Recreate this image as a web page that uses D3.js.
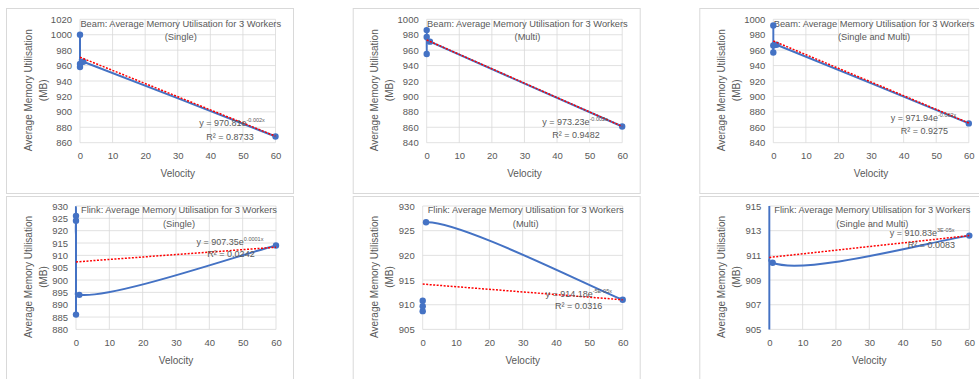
<!DOCTYPE html>
<html>
<head>
<meta charset="utf-8">
<script src="https://cdn.jsdelivr.net/npm/d3@7"></script>
<style>
  body { margin: 0; background: #fff; }
  text { font-family: "Liberation Sans", Arial, sans-serif; fill: #595959; }
</style>
</head>
<body>
<div id="chart"></div>
<script>
// ----------------------------
// Data
// ----------------------------
const xTicks = [0, 10, 20, 30, 40, 50, 60];

const titles = [
    "Beam: Average Memory Utilisation for 3 Workers",
    "Beam: Average Memory Utilisation for 3 Workers",
    "Beam: Average Memory Utilisation for 3 Workers",
    "Flink: Average Memory Utilisation for 3 Workers",
    "Flink: Average Memory Utilisation for 3 Workers",
    "Flink: Average Memory Utilisation for 3 Workers"
];
const subtitles = ["(Single)", "(Multi)", "(Single and Multi)", "(Single)", "(Multi)", "(Single and Multi)"];

// velocity / memory for each series (in the order Excel joins them)
const beamSingleX = [0, 0, 0, 1, 60];
const beamSingleY = [1000, 958, 962, 965, 868];
const beamMultiX = [0, 0, 0, 1, 60];
const beamMultiY = [986, 955, 977, 971, 861];
const beamBothX = [0, 0, 0, 1, 60];
const beamBothY = [992, 957, 966, 967, 865];
const flinkSingleX = [0, 0, 0, 1, 60];
const flinkSingleY = [886, 926, 924, 894, 914];
const flinkMultiX = [0, 0, 0, 1, 60];
const flinkMultiY = [910.8, 909.7, 908.7, 926.7, 911];
const flinkBothX = [0, 0, 0, 1, 60];
const flinkBothY = [886, 926, 919, 910.4, 912.6];

// y axis ticks
const yTicksBeamSingle = [860, 880, 900, 920, 940, 960, 980, 1000, 1020];
const yTicksBeamMulti = [840, 860, 880, 900, 920, 940, 960, 980, 1000];
const yTicksBeamBoth = [840, 860, 880, 900, 920, 940, 960, 980, 1000];
const yTicksFlinkSingle = [880, 885, 890, 895, 900, 905, 910, 915, 920, 925, 930];
const yTicksFlinkMulti = [905, 910, 915, 920, 925, 930];
const yTicksFlinkBoth = [905, 907, 909, 911, 913, 915];

// exponential trendline: value at velocity 0 and at velocity 60
const trendAt0 = [970.8, 973.2, 971.9, 907.35, 914.18, 910.83];
const trendAt60 = [868.5, 861.2, 865.5, 913.3, 911.0, 912.6];
const trendCoef = ["970.81", "973.23", "971.94", "907.35", "914.18", "910.83"];
const trendExp = ["-0.002x", "-0.002x", "-0.002x", "0.0001x", "-5E-05x", "3E-05x"];
const trendR2 = ["0.8733", "0.9482", "0.9275", "0.0242", "0.0316", "0.0083"];

// first point from which the series line is drawn
const lineFrom = [0, 0, 0, 0, 3, 0];

const seriesX = [beamSingleX, beamMultiX, beamBothX, flinkSingleX, flinkMultiX, flinkBothX];
const seriesY = [beamSingleY, beamMultiY, beamBothY, flinkSingleY, flinkMultiY, flinkBothY];
const yTicks = [yTicksBeamSingle, yTicksBeamMulti, yTicksBeamBoth, yTicksFlinkSingle, yTicksFlinkMulti, yTicksFlinkBoth];

// label placement (relative to plot area)
const eqPos = [[152, 106.7, 150], [148.3, 105.7, 149.3], [150.2, 101.7, 151], [154, 39, 155], [156, 91.3, 156], [152.8, 30, 162]];
const r2Gap = [14, 13, 13, 12, 12, 12];

// ----------------------------
// Drawing
// ----------------------------
const width = 979, height = 379;
const boxLeft = [6, 352.7, 699.3];
const boxTop = [8, 196];

const svg = d3.select("#chart")
    .append("svg")
    .attr("width", width)
    .attr("height", height);

// Excel-like smoothed line (cardinal spline) through pixel points
function smoothPath(pts, from) {
    let d = "";
    for (let i = from; i < pts.length - 1; i++) {
        const p0 = pts[Math.max(i - 1, 0)], p1 = pts[i], p2 = pts[i + 1], p3 = pts[Math.min(i + 2, pts.length - 1)];
        const c1 = [p1[0] + (p2[0] - p0[0]) / 6, p1[1] + (p2[1] - p0[1]) / 6];
        const c2 = [p2[0] - (p3[0] - p1[0]) / 6, p2[1] - (p3[1] - p1[1]) / 6];
        if (i === from) d += `M${p1[0]},${p1[1]}`;
        d += `C${c1[0]},${c1[1]},${c2[0]},${c2[1]},${p2[0]},${p2[1]}`;
    }
    return d;
}

titles.forEach(function(title, i) {
    const row = Math.floor(i / 3), col = i % 3;
    const bx = boxLeft[col], by = boxTop[row];
    const left = bx + (row ? 70 : 74);
    const top = by + (row ? 10 : 11.3);
    const pw = row ? 200 : 195.5;
    const ph = 123.4;
    const ticks = yTicks[i];

    // panel frame
    svg.append("rect")
        .attr("x", bx + 0.5)
        .attr("y", by + 0.5)
        .attr("width", 287)
        .attr("height", row ? 200 : 185)
        .attr("fill", "#fff")
        .attr("stroke", "#d9d9d9");

    const x = d3.scaleLinear().domain([0, 60]).range([left, left + pw]);
    const y = d3.scaleLinear().domain([ticks[0], ticks[ticks.length - 1]]).range([top + ph, top]);

    // gridlines
    const grid = svg.append("g");
    grid.selectAll(".h").data(ticks).enter().append("line")
        .attr("x1", left).attr("x2", left + pw)
        .attr("y1", d => y(d)).attr("y2", d => y(d))
        .attr("stroke", "#d9d9d9").attr("stroke-width", 0.8);
    grid.selectAll(".v").data(xTicks).enter().append("line")
        .attr("x1", d => x(d)).attr("x2", d => x(d))
        .attr("y1", top).attr("y2", top + ph)
        .attr("stroke", "#d9d9d9").attr("stroke-width", 0.8);

    // axes (labels only)
    const yAxis = svg.append("g")
        .attr("transform", `translate(${left - 2},0)`)
        .call(d3.axisLeft(y).tickValues(ticks).tickFormat(d3.format("d")).tickSize(0).tickPadding(6));
    const xAxis = svg.append("g")
        .attr("transform", `translate(0,${top + ph + 6})`)
        .call(d3.axisBottom(x).tickValues(xTicks).tickSize(0).tickPadding(4));
    [yAxis, xAxis].forEach(function(a) {
        a.select(".domain").remove();
        a.selectAll("text")
            .style("font-family", '"Liberation Sans", Arial, sans-serif')
            .style("font-size", "9.5px")
            .attr("fill", "#595959");
    });

    // axis titles
    svg.append("text")
        .attr("x", left + pw / 2)
        .attr("y", top + ph + 34.5)
        .attr("text-anchor", "middle")
        .style("font-size", "10px")
        .text("Velocity");
    [["Average Memory Utilisation", 22], ["(MB)", 37]].forEach(function(t) {
        svg.append("text")
            .attr("transform", `translate(${bx + t[1]},${top + 71}) rotate(-90)`)
            .attr("text-anchor", "middle")
            .attr("dy", "0.35em")
            .style("font-size", "10px")
            .text(t[0]);
    });

    // chart title
    svg.append("text")
        .attr("x", left + pw / 2 + 3)
        .attr("y", top + 7.3)
        .attr("text-anchor", "middle")
        .style("font-size", "9.3px")
        .text(title);
    svg.append("text")
        .attr("x", left + pw / 2 + 3)
        .attr("y", top + 20.5)
        .attr("text-anchor", "middle")
        .style("font-size", "9.3px")
        .text(subtitles[i]);

    // clip to plot area
    const clipId = "clip" + i;
    svg.append("clipPath").attr("id", clipId)
        .append("rect")
        .attr("x", left - 1.2).attr("y", top)
        .attr("width", pw + 5).attr("height", ph);

    const pts = seriesX[i].map((v, k) => [x(v), y(seriesY[i][k])]);

    svg.append("path")
        .attr("clip-path", `url(#${clipId})`)
        .attr("d", smoothPath(pts, lineFrom[i]))
        .attr("fill", "none")
        .attr("stroke", "#4472c4")
        .attr("stroke-width", 2);

    svg.append("g").selectAll("circle")
        .data(pts.filter(p => p[1] >= top - 1 && p[1] <= top + ph + 1))
        .enter().append("circle")
        .attr("cx", d => d[0])
        .attr("cy", d => d[1])
        .attr("r", 3.2)
        .attr("fill", "#4472c4");

    // trendline
    svg.append("line")
        .attr("clip-path", `url(#${clipId})`)
        .attr("x1", x(0)).attr("y1", y(trendAt0[i]))
        .attr("x2", x(60)).attr("y2", y(trendAt60[i]))
        .attr("stroke", "#ff0000")
        .attr("stroke-width", 1.5)
        .attr("stroke-dasharray", "2,1.5");

    // trendline equation
    const eq = svg.append("text")
        .attr("x", left + eqPos[i][0])
        .attr("y", top + eqPos[i][1])
        .attr("text-anchor", "middle")
        .style("font-size", "9px");
    eq.append("tspan").text(`y = ${trendCoef[i]}e`);
    eq.append("tspan").attr("dy", -4).style("font-size", "5.5px").text(trendExp[i]);
    svg.append("text")
        .attr("x", left + eqPos[i][2])
        .attr("y", top + eqPos[i][1] + r2Gap[i])
        .attr("text-anchor", "middle")
        .style("font-size", "9px")
        .text(`R² = ${trendR2[i]}`);
});
</script>
</body>
</html>
